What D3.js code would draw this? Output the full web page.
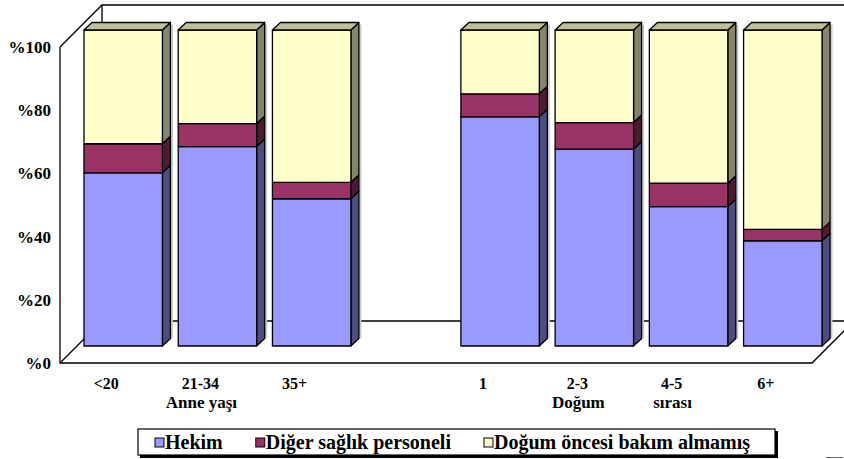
<!DOCTYPE html>
<html>
<head>
<meta charset="utf-8">
<script src="https://cdn.jsdelivr.net/npm/d3@7"></script>
<style>
  html, body { margin: 0; padding: 0; background: #fff; }
  svg { display: block; }
</style>
</head>
<body>
<svg id="chart" width="844" height="459" font-family="'Liberation Serif', 'Times New Roman', Times, serif" font-weight="bold"></svg>
<script>
// Doğum öncesi bakım: anne yaşı ve doğum sırasına göre (%)
const categories = ["<20", "21-34", "35+", "1", "2-3", "4-5", "6+"];
const groupLabels = { "21-34": "Anne yaşı", "2-3": "Doğum", "4-5": "sırası" };
const hekim = [54.8, 63.1, 46.6, 72.5, 62.3, 44.1, 33.3];
const digerPersonel = [9.2, 7.3, 5.2, 7.3, 8.4, 7.4, 3.6];
const bakimYok = [36.0, 29.6, 48.2, 20.2, 29.3, 48.5, 63.1];
const seriesNames = ["Hekim", "Diğer sağlık personeli", "Doğum öncesi bakım almamış"];
const yTicks = [0, 20, 40, 60, 80, 100];

const colors = [
  { front: "#9999FF", side: "#4D4D80", top: "#B3B3E6" },
  { front: "#993366", side: "#4D1A33", top: "#73264D" },
  { front: "#FFFFCC", side: "#858569", top: "#BFBF99" }
];

const svg = d3.select("#chart");

// front plane of the 3D box
const x0 = 60, x1 = 812, yBase = 363, yTop = 47;
const wallDx = 42, wallDy = 42;   // depth of the box
const barOff = 17;                // bars sit this far into the box
const barDx = 8, barDy = 7.5;     // bar thickness

const slotDomain = ["<20", "21-34", "35+", "_gap_", "1", "2-3", "4-5", "6+"];
const x = d3.scaleBand().domain(slotDomain).range([x0, x1])
  .paddingInner(0.1675).paddingOuter(0.074);
const y = d3.scaleLinear().domain([0, 100]).range([yBase, yTop]);

// walls and floor
const walls = svg.append("g").attr("fill", "none").attr("stroke", "#000").attr("stroke-width", 1.3);
const backL = x0 + wallDx, backTop = yTop - wallDy, backBase = yBase - wallDy;
walls.append("path").attr("d", `M${x0},${yTop}L${x0},${yBase}L${x1},${yBase}L${x1 + wallDx},${backBase}`);
walls.append("path").attr("d", `M${x0},${yTop}L${backL},${backTop}L850,${backTop}`);
walls.append("path").attr("d", `M${backL},${backTop}L${backL},${backBase}L850,${backBase}`);
walls.append("path").attr("d", `M${x0},${yBase}L${backL},${backBase}`);

// y axis labels
svg.append("g").selectAll("text").data(yTicks).join("text")
  .attr("x", 51).attr("y", d => y(d)).attr("dy", "0.35em")
  .attr("text-anchor", "end").attr("font-size", 17)
  .text(d => "%" + d);

// stacked 3D bars
const stackRows = categories.map((c, i) => ({ cat: c, s0: hekim[i], s1: digerPersonel[i], s2: bakimYok[i] }));
const stacked = d3.stack().keys(["s0", "s1", "s2"])(stackRows);
const bw = x.bandwidth();
const barsG = svg.append("g").attr("stroke", "#000").attr("stroke-width", 1.3).attr("stroke-linejoin", "round");

categories.forEach((c, i) => {
  const g = barsG.append("g");
  const left = x(c) + barOff, right = left + bw;
  // faint shadow beside the bar
  g.append("rect").attr("x", right + barDx).attr("y", y(100) - barOff - barDy + 2)
    .attr("width", 2.5).attr("height", y(0) - y(100) - 2)
    .attr("fill", "#c8c8c8").attr("stroke", "none");
  stacked.forEach((layer, k) => {
    const [v0, v1] = layer[i];
    const yb = y(v0) - barOff, yt = y(v1) - barOff;
    g.append("path")
      .attr("d", `M${right},${yb}L${right + barDx},${yb - barDy}L${right + barDx},${yt - barDy}L${right},${yt}Z`)
      .attr("fill", colors[k].side);
    g.append("rect").attr("x", left).attr("y", yt).attr("width", bw).attr("height", yb - yt)
      .attr("fill", colors[k].front);
    if (k === stacked.length - 1) {
      g.append("path")
        .attr("d", `M${left},${yt}L${left + barDx},${yt - barDy}L${right + barDx},${yt - barDy}L${right},${yt}Z`)
        .attr("fill", colors[k].top);
    }
  });
});

// category labels
const labels = svg.append("g").attr("text-anchor", "middle");
labels.selectAll("text.cat").data(categories).join("text").attr("class", "cat")
  .attr("font-size", 16)
  .attr("x", d => x(d) + bw / 2).attr("y", 389).text(d => d);
labels.selectAll("text.grp").data(Object.keys(groupLabels)).join("text").attr("class", "grp")
  .attr("font-size", 17)
  .attr("x", d => x(d) + bw / 2 + 1).attr("y", 408).text(d => groupLabels[d]);

// legend
const lg = svg.append("g");
lg.append("rect").attr("x", 140).attr("y", 431).attr("width", 638).attr("height", 27).attr("fill", "#000");
lg.append("rect").attr("x", 138).attr("y", 429).attr("width", 637).attr("height", 26)
  .attr("fill", "#fff").attr("stroke", "#000").attr("stroke-width", 1.2);
let lx = 155;
seriesNames.forEach((name, k) => {
  lg.append("rect").attr("x", lx).attr("y", 438).attr("width", 9).attr("height", 9)
    .attr("fill", colors[k].front).attr("stroke", "#000").attr("stroke-width", 1);
  const t = lg.append("text").attr("x", lx + 10).attr("y", 449).attr("font-size", 20).text(name);
  lx += 10 + t.node().getComputedTextLength() + 33;
});

// small edge mark at lower right
svg.append("line").attr("x1", 826).attr("x2", 843).attr("y1", 457.5).attr("y2", 457.5)
  .attr("stroke", "#666").attr("stroke-width", 1);
</script>
</body>
</html>
